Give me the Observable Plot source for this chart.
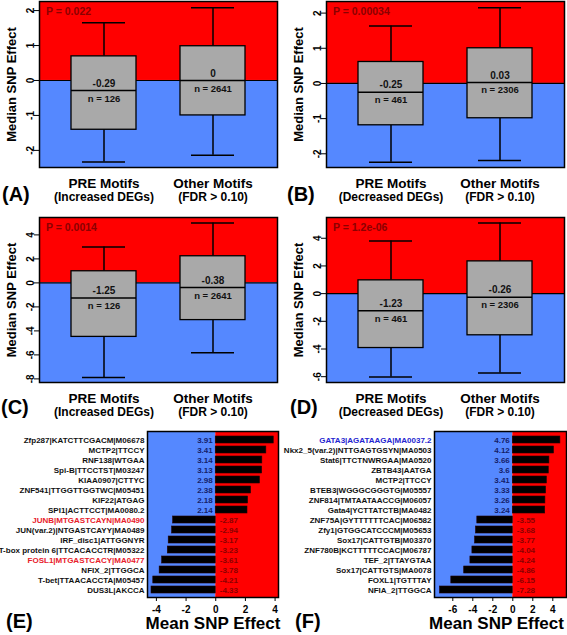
<!DOCTYPE html>
<html>
<head>
<meta charset="utf-8">
<script src="https://cdn.jsdelivr.net/npm/d3@7"></script>
<script src="https://cdn.jsdelivr.net/npm/@observablehq/plot@0.6"></script>
<style>
  html, body { margin: 0; padding: 0; background: #fff; }
  #fig { position: relative; width: 567px; height: 635px; overflow: hidden; font-family: "Liberation Sans", Arial, sans-serif; }
  #fig > div.p { position: absolute; }
  #fig svg { display: block; }
  .letter { position: absolute; font-weight: bold; font-size: 20px; line-height: 20px; color: #000; }
</style>
</head>
<body>
<div id="fig"></div>
<script>
// ---------- data ----------
const boxGroups = ["PRE Motifs", "Other Motifs"];
const subIncreased = ["(Increased DEGs)", "(FDR > 0.10)"];
const subDecreased = ["(Decreased DEGs)", "(FDR > 0.10)"];

// [lower whisker, Q1, median, Q3, upper whisker]
const statsA = [[-2.33, -1.41, -0.29, 0.69, 1.65], [-2.14, -1.0, 0, 0.98, 2.08]];
const statsB = [[-2.24, -1.19, -0.25, 0.61, 1.63], [-2.19, -0.99, 0.03, 1.0, 2.15]];
const statsC = [[-7.88, -4.5, -1.25, 0.97, 3.0], [-5.83, -3.1, -0.38, 2.22, 5.0]];
const statsD = [[-6.02, -3.93, -1.23, 0.96, 3.8], [-5.73, -3.01, -0.26, 2.33, 5.1]];
const nIncreased = [126, 2641];
const nDecreased = [461, 2306];
const pA = "P = 0.022", pB = "P = 0.00034", pC = "P = 0.0014", pD = "P = 1.2e-06";
const domainA = [-2.49, 2.26], domainB = [-2.39, 2.33], domainC = [-8.3, 5.45], domainD = [-6.42, 5.5];
const ticksAB = [-2, -1, 0, 1, 2];
const ticksC = [-8, -6, -4, -2, 0, 2, 4];
const ticksD = [-6, -4, -2, 0, 2, 4];

const motifsE = ["Zfp287|KATCTTCGACM|M06678", "MCTP2|TTCCY", "RNF138|WTGAA", "Spi-B|TTCCTST|M03247",
  "KIAA0907|CTTYC", "ZNF541|TTGGTTGGTWC|M05451", "KIF22|ATGAG", "SPI1|ACTTCCT|MA0080.2",
  "JUNB|MTGASTCAYN|MA0490", "JUN(var.2)|NTGASTCAYY|MA0489", "IRF_disc1|ATTGGNYR",
  "T-box protein 6|TTCACACCTR|M05322", "FOSL1|MTGASTCACY|MA0477", "NFIX_2|TTGGCA",
  "T-bet|TTAACACCTA|M05457", "DUS3L|AKCCA"];
const valuesE = [3.91, 3.41, 3.14, 3.13, 2.98, 2.38, 2.18, 2.14, -2.87, -2.94, -3.17, -3.23, -3.61, -3.78, -4.21, -4.33];
const redLabelsE = ["JUNB|MTGASTCAYN|MA0490", "FOSL1|MTGASTCACY|MA0477"];
const blueLabelsE = [];
const domainE = [-4.6, 4.23];
const ticksE = [-4, -2, 0, 2, 4];

const motifsF = ["GATA3|AGATAAGA|MA0037.2", "Nkx2_5(var.2)|NTTGAGTGSYN|MA0503", "Stat6|TTCTNWRGAA|MA0520",
  "ZBTB43|AATGA", "MCTP2|TTCCY", "BTEB3|WGGGCGGGTG|M05557", "ZNF814|TMTAATAACCG|M06057",
  "Gata4|YCTTATCTB|MA0482", "ZNF75A|GYTTTTTTCAC|M06582", "Zfy1|GTGGCATCCCM|M05653",
  "Sox17|CATTGTB|M03370", "ZNF780B|KCTTTTTCCAC|M06787", "TEF_2|TTAYGTAA", "Sox17|CATTGTS|MA0078",
  "FOXL1|TGTTTAY", "NFIA_2|TTGGCA"];
const valuesF = [4.76, 4.12, 3.66, 3.6, 3.41, 3.33, 3.26, 3.24, -3.55, -3.68, -3.77, -4.04, -4.24, -4.86, -6.15, -7.28];
const redLabelsF = [];
const blueLabelsF = ["GATA3|AGATAAGA|MA0037.2"];
const domainF = [-7.83, 5.37];
const ticksF = [-6, -4, -2, 0, 2, 4];

// ---------- styles ----------
const RED = "#ff0000", BLUE = "#5588ff", GRAY = "#a9a9a9";
const DARKRED = "#8b0000", NAVY = "#14206a";
const FONT = "'Liberation Sans', Arial, sans-serif";

function boxPanel({stats, n, sub, p, domain, ticks, width, height, marginLeft, marginRight, marginTop, marginBottom}) {
  const rows = stats.map((s, i) => ({g: boxGroups[i], sub: sub[i], lo: s[0], q1: s[1], med: s[2], q3: s[3], hi: s[4], n: n[i]}));
  return Plot.plot({
    width, height, marginLeft, marginRight, marginTop, marginBottom,
    style: {fontFamily: FONT, fontWeight: "bold", background: "transparent", overflow: "visible"},
    x: {domain: boxGroups, paddingInner: 0.4, paddingOuter: 0.282, axis: null},
    y: {domain, axis: null},
    marks: [
      Plot.barY([{a: 0, b: domain[1]}], {y1: "a", y2: "b", fill: RED}),
      Plot.barY([{a: domain[0], b: 0}], {y1: "a", y2: "b", fill: BLUE}),
      Plot.ruleY([0], {stroke: "#000", strokeWidth: 1.2}),
      Plot.ruleX(rows, {x: "g", y1: "lo", y2: "q1", stroke: "#000", strokeWidth: 1.5}),
      Plot.ruleX(rows, {x: "g", y1: "q3", y2: "hi", stroke: "#000", strokeWidth: 1.5}),
      Plot.tickY(rows, {x: "g", y: "lo", insetLeft: 11, insetRight: 11, stroke: "#000", strokeWidth: 1.5}),
      Plot.tickY(rows, {x: "g", y: "hi", insetLeft: 11, insetRight: 11, stroke: "#000", strokeWidth: 1.5}),
      Plot.barY(rows, {x: "g", y1: "q1", y2: "q3", fill: GRAY, stroke: "#000", strokeWidth: 1.3}),
      Plot.tickY(rows, {x: "g", y: "med", stroke: "#000", strokeWidth: 1.5}),
      Plot.text(rows, {x: "g", y: "med", text: d => String(d.med), dy: -7, fontSize: 10, fill: "#111"}),
      Plot.text(rows, {x: "g", y: "med", text: d => `n = ${d.n}`, dy: 8, fontSize: 9.5, fill: "#111"}),
      Plot.text([p], {frameAnchor: "top-left", textAnchor: "start", lineAnchor: "middle", dx: 6.5, dy: 10.5, text: d => d, fill: DARKRED, fontSize: 10.5}),
      Plot.text(rows, {x: "g", frameAnchor: "bottom", lineAnchor: "middle", dy: 16, text: "g", fontSize: 13.5, fill: "#000"}),
      Plot.text(rows, {x: "g", frameAnchor: "bottom", lineAnchor: "middle", dy: 30, text: "sub", fontSize: 12, fill: "#000"}),
      Plot.axisY(ticks, {tickFormat: d => String(d), tickRotate: -90, tickSize: 5, tickPadding: 1, fontSize: 10, label: null, stroke: "#000", fill: "#000"}),
      Plot.text(["Median SNP Effect"], {frameAnchor: "left", rotate: -90, textAnchor: "middle", lineAnchor: "middle", dx: -28, text: d => d, fontSize: 13, fill: "#000"}),
      Plot.frame({stroke: "#000", strokeWidth: 1.5})
    ]
  });
}

function barPanel({motifs, values, redLabels, blueLabels, domain, ticks, width, height, marginLeft, marginRight, marginTop, marginBottom, titleDx}) {
  const rows = motifs.map((m, i) => ({m, v: values[i]}));
  const isRed = d => redLabels.includes(d.m), isBlue = d => blueLabels.includes(d.m);
  const lab = {y: "m", frameAnchor: "left", textAnchor: "end", lineAnchor: "middle", dx: -3, text: "m", fontSize: 8};
  return Plot.plot({
    width, height, marginLeft, marginRight, marginTop, marginBottom,
    style: {fontFamily: FONT, fontWeight: "bold", background: "transparent", overflow: "visible"},
    x: {domain, axis: null},
    y: {domain: motifs, paddingInner: 0.3, paddingOuter: 0.23, axis: null},
    marks: [
      Plot.barX([{a: domain[0], b: 0}], {x1: "a", x2: "b", fill: BLUE}),
      Plot.barX([{a: 0, b: domain[1]}], {x1: "a", x2: "b", fill: RED}),
      Plot.barX(rows, {y: "m", x1: 0, x2: "v", fill: "#000", stroke: "#220000", strokeWidth: 0.6}),
      Plot.text(rows.filter(d => d.v > 0), {y: "m", x: () => 0, dx: -3, textAnchor: "end", text: d => String(d.v), fill: NAVY, fontSize: 8}),
      Plot.text(rows.filter(d => d.v < 0), {y: "m", x: () => 0, dx: 4, textAnchor: "start", text: d => String(d.v), fill: DARKRED, fontSize: 8}),
      Plot.text(rows.filter(d => !isRed(d) && !isBlue(d)), {...lab, fill: "#111"}),
      Plot.text(rows.filter(isRed), {...lab, fill: "#e8202a"}),
      Plot.text(rows.filter(isBlue), {...lab, fill: "#2424d0"}),
      Plot.axisX(ticks, {tickFormat: d => String(d), tickSize: 4, tickPadding: 4, fontSize: 10, label: null, stroke: "#000", fill: "#000"}),
      Plot.text(["Mean SNP Effect"], {frameAnchor: "bottom", textAnchor: "middle", lineAnchor: "middle", dy: 26.5, dx: titleDx, text: d => d, fontSize: 17, fill: "#000"}),
      Plot.frame({stroke: "#000", strokeWidth: 1.5})
    ]
  });
}

const fig = document.getElementById("fig");
function place(node, left, top) {
  const d = document.createElement("div");
  d.className = "p";
  d.style.left = left + "px";
  d.style.top = top + "px";
  d.appendChild(node);
  fig.appendChild(d);
}
function letter(t, left, cy) {
  const d = document.createElement("div");
  d.className = "letter";
  d.textContent = t;
  d.style.left = left + "px";
  d.style.top = (cy - 10) + "px";
  fig.appendChild(d);
}

place(boxPanel({stats: statsA, n: nIncreased, sub: subIncreased, p: pA, domain: domainA, ticks: ticksAB,
  width: 282, height: 205, marginLeft: 39, marginRight: 5, marginTop: 1, marginBottom: 38}), 0, 0);
place(boxPanel({stats: statsB, n: nDecreased, sub: subDecreased, p: pB, domain: domainB, ticks: ticksAB,
  width: 282, height: 205, marginLeft: 41, marginRight: 3, marginTop: 1, marginBottom: 38}), 285, 0);
place(boxPanel({stats: statsC, n: nIncreased, sub: subIncreased, p: pC, domain: domainC, ticks: ticksC,
  width: 282, height: 210, marginLeft: 39, marginRight: 5, marginTop: 7, marginBottom: 38}), 0, 210);
place(boxPanel({stats: statsD, n: nDecreased, sub: subDecreased, p: pD, domain: domainD, ticks: ticksD,
  width: 282, height: 210, marginLeft: 41, marginRight: 3, marginTop: 7, marginBottom: 38}), 285, 210);
place(barPanel({motifs: motifsE, values: valuesE, redLabels: redLabelsE, blueLabels: blueLabelsE, domain: domainE, ticks: ticksE,
  width: 283, height: 215, marginLeft: 147, marginRight: 5, marginTop: 11, marginBottom: 38, titleDx: 0}), 0, 420);
place(barPanel({motifs: motifsF, values: valuesF, redLabels: redLabelsF, blueLabels: blueLabelsF, domain: domainF, ticks: ticksF,
  width: 282, height: 215, marginLeft: 149, marginRight: 1, marginTop: 11, marginBottom: 38, titleDx: -4}), 285, 420);

letter("(A)", 2, 194);
letter("(B)", 287, 194);
letter("(C)", 1, 407);
letter("(D)", 290, 407);
letter("(E)", 6, 621);
letter("(F)", 295, 621);
</script>
</body>
</html>
